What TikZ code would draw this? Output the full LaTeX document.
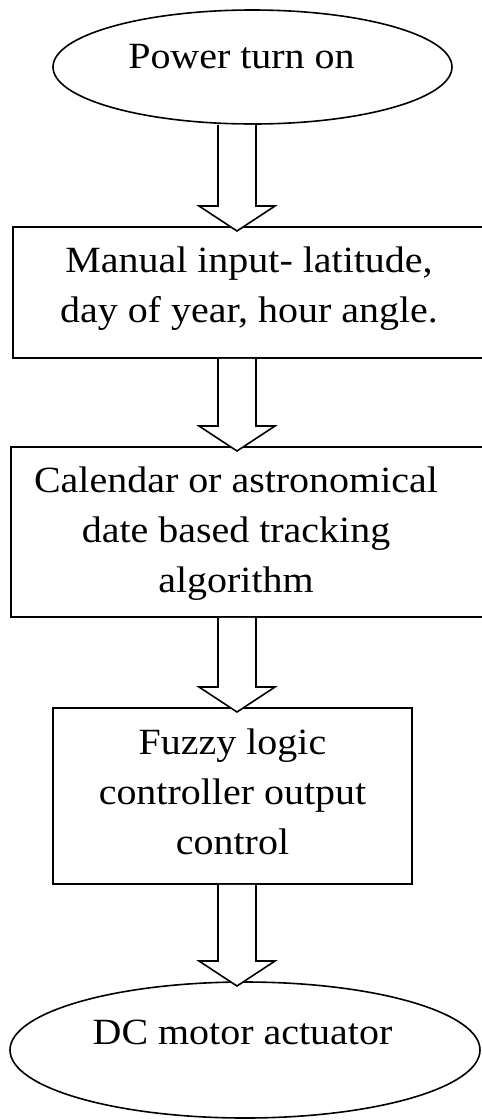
\documentclass[tikz,border=0pt]{standalone}
\usepackage{fontspec}
\setmainfont{Liberation Serif}[FakeStretch=1.08]
\usetikzlibrary{shapes.geometric}
\usetikzlibrary{calc}

\begin{document}
\begin{tikzpicture}[
  x=1pt, y=1pt,
  terminal/.style={ellipse, draw, line width=1.6pt, inner sep=0pt, outer sep=0pt},
  process/.style={rectangle, draw, line width=1.6pt, inner sep=0pt, outer sep=0pt},
  steptext/.style={align=center, inner sep=0pt, font=\fontsize{37}{50}\selectfont},
  flowarrow/.style={draw, fill=white, line width=1.6pt, line join=miter}
]
\useasboundingbox (0,0) rectangle (482,-1120);
\clip (0,0) rectangle (482,-1120);

% shapes of the flow
\node[terminal, minimum width=399, minimum height=114] (power) at (252.5,-67) {};
\node[process, minimum width=487, minimum height=131] (manual) at (256.5,-292.5) {};
\node[process, minimum width=489, minimum height=170] (calendar) at (255.5,-532) {};
\node[process, minimum width=359, minimum height=176] (fuzzy) at (232.5,-796) {};
\node[terminal, minimum width=470, minimum height=136] (motor) at (245,-1050) {};

% texts
\node[steptext] (powertext) at (241.5,-57) {Power turn on};
\node[steptext] (manualtext) at (249,-288.3) {Manual input- latitude,\\ day of year, hour angle.};
\node[steptext] (calendartext) at (236,-533.3) {Calendar or astronomical\\ date based tracking\\ algorithm};
\node[steptext] (fuzzytext) at (232.5,-791.5) {Fuzzy logic\\ controller output\\ control};
\node[steptext] (motortext) at (242.5,-1032.7) {DC motor actuator};

% block arrows between the steps
\coordinate (axis) at (237,0);
\foreach \src/\dst in {power/manual, manual/calendar, calendar/fuzzy, fuzzy/motor}{
  \coordinate (s) at ($(axis |- \src.south)+(0,-0.8)$);
  \coordinate (tip) at ($(axis |- \dst.north)+(0,-4)$);
  \draw[flowarrow] ($(s)+(-19,0)$) -- ($(tip)+(-19,25)$) -- ($(tip)+(-38,25)$) -- (tip)
    -- ($(tip)+(38,25)$) -- ($(tip)+(19,25)$) -- ($(s)+(19,0)$);
}
\end{tikzpicture}
\end{document}
